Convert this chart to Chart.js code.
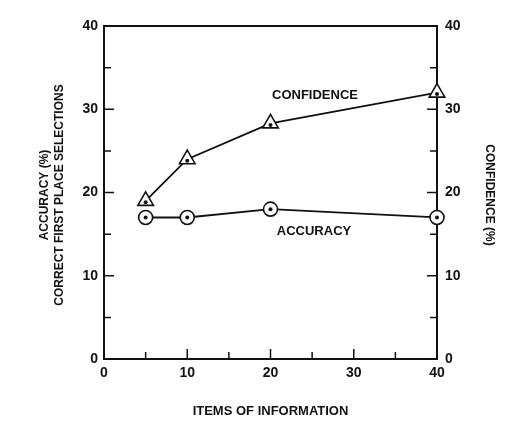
<!DOCTYPE html>
<html><head><meta charset="utf-8">
<script src="https://cdn.jsdelivr.net/npm/chart.js@4/dist/chart.umd.min.js"></script>
<style>html,body{margin:0;padding:0;background:#fff}#w{width:524px;height:422px}</style>
</head><body><div id="w"><canvas id="c"></canvas></div>
<script>
const items = [5, 10, 20, 40];
const confidence = [19, 24, 28.3, 32];
const accuracy = [17, 17, 18, 17];
const yTicks = [0, 10, 20, 30, 40];
const xTicks = [0, 10, 20, 30, 40];
const FONT = 'bold 13px "Liberation Sans", Arial, sans-serif';

const deco = {
  id: 'deco',
  afterDraw(ch) {
    const c = ch.ctx, x = ch.scales.x, y = ch.scales.y, a = ch.chartArea;
    c.save();
    c.strokeStyle = '#111'; c.lineWidth = 1.5;
    for (let v = 0; v <= 40; v += 5) {
      const len = v % 10 === 0 ? 10 : 7;
      const py = y.getPixelForValue(v), px = x.getPixelForValue(v);
      c.beginPath();
      c.moveTo(a.left, py); c.lineTo(a.left + len, py);
      c.moveTo(a.right, py); c.lineTo(a.right - len, py);
      if (v > 0 && v < 40) { c.moveTo(px, a.bottom); c.lineTo(px, a.bottom - len); }
      c.stroke();
    }
    c.fillStyle = '#111';
    ch.data.datasets.forEach((d, i) => {
      ch.getDatasetMeta(i).data.forEach(p => {
        c.beginPath(); c.arc(p.x, p.y + (i === 0 ? 1.5 : 0), 2, 0, Math.PI * 2); c.fill();
      });
    });
    c.font = FONT; c.textAlign = 'center'; c.textBaseline = 'middle';
    c.fillText('CONFIDENCE', 315, 95);
    c.fillText('ACCURACY', 314, 231);
    c.fillText('ITEMS OF INFORMATION', (a.left + a.right) / 2, 411);
    c.font = 'bold 12px "Liberation Sans", Arial, sans-serif';
    c.save(); c.translate(45, 195); c.rotate(-Math.PI / 2);
    c.fillText('ACCURACY (%)', 0, 0); c.fillText('CORRECT FIRST PLACE SELECTIONS', 0, 15); c.restore();
    c.save(); c.translate(489, 195); c.rotate(Math.PI / 2);
    c.fillText('CONFIDENCE (%)', 0, 0); c.restore();
    c.restore();
  }
};

const tf = { family: '"Liberation Sans", Arial', size: 14, weight: 'bold' };
new Chart(document.getElementById('c'), {
  type: 'line',
  data: { datasets: [
    { label: 'CONFIDENCE', data: items.map((v, i) => ({ x: v, y: confidence[i] })), clip: false,
      borderColor: '#111', borderWidth: 1.8, pointStyle: 'triangle', pointRadius: 9,
      pointBackgroundColor: '#fff', pointBorderColor: '#111', pointBorderWidth: 1.6 },
    { label: 'ACCURACY', data: items.map((v, i) => ({ x: v, y: accuracy[i] })), clip: false,
      borderColor: '#111', borderWidth: 1.8, pointStyle: 'circle', pointRadius: 7,
      pointBackgroundColor: '#fff', pointBorderColor: '#111', pointBorderWidth: 1.6 }
  ]},
  options: {
    responsive: true, maintainAspectRatio: false, animation: false,
    layout: { padding: { top: 26 } },
    plugins: { legend: { display: false }, tooltip: { enabled: false } },
    scales: {
      x: { type: 'linear', min: 0, max: 40, afterBuildTicks: s => { s.ticks = xTicks.map(v => ({ value: v })); },
        grid: { display: false, drawTicks: false }, border: { color: '#111', width: 2 },
        ticks: { font: tf, color: '#111', padding: 6, maxRotation: 0 },
        afterFit: s => { s.height = 63; } },
      y: { position: 'left', min: 0, max: 40, afterBuildTicks: s => { s.ticks = yTicks.map(v => ({ value: v })); },
        grid: { display: false, drawTicks: false }, border: { color: '#111', width: 2 },
        ticks: { font: tf, color: '#111', padding: 6 },
        afterFit: s => { s.width = 104; } },
      y2: { position: 'right', min: 0, max: 40, afterBuildTicks: s => { s.ticks = yTicks.map(v => ({ value: v })); },
        grid: { display: false, drawTicks: false }, border: { color: '#111', width: 2 },
        ticks: { font: tf, color: '#111', padding: 8 },
        afterFit: s => { s.width = 87; } }
    }
  },
  plugins: [deco, { id: 'top', afterDraw(ch) { const c = ch.ctx, a = ch.chartArea; c.save(); c.strokeStyle = '#111'; c.lineWidth = 2; c.beginPath(); c.moveTo(a.left, a.top); c.lineTo(a.right, a.top); c.stroke(); c.restore(); } }]
});
</script></body></html>
